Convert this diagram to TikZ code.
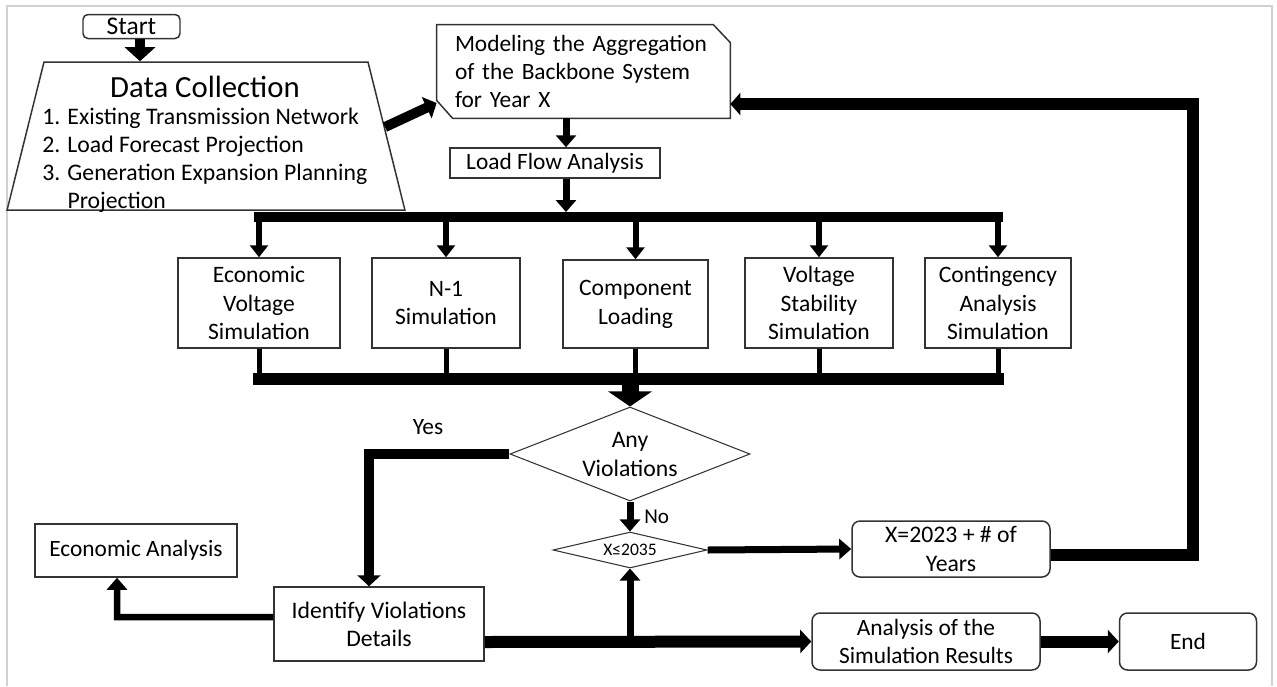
\documentclass[tikz,border=0pt]{standalone}
\usepackage{fontspec}
\setmainfont{Carlito}
\usepackage{tikz}
\usetikzlibrary{arrows.meta,positioning,shapes.geometric,calc}
\definecolor{edge}{gray}{0.2}
\definecolor{rim}{gray}{0.82}
\newcommand{\fsz}[2]{\fontsize{#1}{#2}\selectfont}
\tikzset{
  box/.style={rectangle, draw=edge, line width=0.85pt, align=center, inner sep=1pt, font=\fsz{13.3}{15.9}},
  rbox/.style={box, rounded corners=1.6mm},
  simbox/.style={box, minimum height=18mm, font=\fsz{13.4}{16.4}},
  dbox/.style={diamond, draw=edge, line width=0.6pt, align=center, inner sep=0pt, aspect=3},
  outline/.style={draw=edge, line width=0.85pt},
  arrow/.style={-{Triangle[length=2.2mm, width=4.6mm]}, line width=2mm},
  midarrow/.style={-{Triangle[length=2.4mm, width=4mm]}, line width=1.4mm},
  branch/.style={-{Triangle[length=2.4mm, width=3.6mm]}, line width=1.2mm},
  bigarrow/.style={-{Triangle[length=3mm, width=8.6mm]}, line width=3.4mm},
  bus/.style={line width=2mm, line cap=rect},
  stub/.style={line width=1mm}
}
\begin{document}
\begin{tikzpicture}[x=0.2mm, y=-0.2mm]
  \useasboundingbox (0,0) rectangle (1277,686);
  \draw[rim, line width=0.5mm] (7,686) -- (7,6) -- (1272,6) -- (1272,686);

  % input side
  \node[rbox, rounded corners=1mm, minimum width=19.4mm, minimum height=4.8mm, inner sep=0pt, font=\fsz{14.5}{17}] (start) at (131.5,26.5) {Start};
  \node[trapezium, outline, trapezium left angle=76, trapezium right angle=76, inner sep=0pt, text width=64.8mm, text height=29.6mm, text depth=0pt] (data) at (206,136) {};
  \node[font=\fsz{17.5}{21}, anchor=base, inner sep=0pt] (datatitle) at (205,97) {Data Collection};
  \node[font=\fsz{13.5}{15.9}, align=left, anchor=north west, inner sep=0pt] (datalist) at (42,108) {1. Existing Transmission Network\\2. Load Forecast Projection\\3. Generation Expansion Planning\\\phantom{3. }Projection};
  \node[minimum width=58.6mm, minimum height=18.6mm, inner xsep=3.6mm, inner ysep=0pt, text width=51.4mm, align=left, font=\fsz{13.3}{15.9}] (model) at (583.5,71.5) {Modeling the Aggregation\\of the Backbone System\\for Year X};
  \draw[outline] (model.north west) -- ([xshift=-3.4mm]model.north east) -- ([yshift=-3.6mm]model.north east)
    -- (model.south east) -- ([xshift=3.2mm]model.south west) -- ([yshift=3.6mm]model.south west) -- cycle;
  \node[box, minimum width=42mm, minimum height=6mm] (load) at (555,163) {Load Flow Analysis};

  % simulations
  \node[simbox, minimum width=32.4mm] (econ) at (259,303) {Economic\\Voltage\\Simulation};
  \node[simbox, minimum width=29.6mm] (nmin) at (446,303) {N-1\\Simulation};
  \node[simbox, minimum width=29mm, minimum height=17.6mm] (comp) at (635.5,304) {Component\\Loading};
  \node[simbox, minimum width=29.6mm] (volt) at (819,303) {Voltage\\Stability\\Simulation};
  \node[simbox, minimum width=29.2mm] (cont) at (998,303) {Contingency\\Analysis\\Simulation};

  % decisions
  \node[dbox, minimum width=48mm, minimum height=18.8mm, font=\fsz{13.5}{16.5}] (anyv) at (630,454) {Any\\Violations};
  \node[dbox, aspect=4, minimum width=30.8mm, minimum height=7.2mm, font=\fsz{10}{12}] (chk) at (630,550) {X≤2035};
  \node[rbox, minimum width=39.6mm, minimum height=11.2mm, font=\fsz{13.5}{16}] (years) at (951,549) {X=2023 + \# of\\Years};
  \node[box, minimum width=42mm, minimum height=14.8mm, font=\fsz{13.5}{16}] (ident) at (379,624) {Identify Violations\\Details};
  \node[box, minimum width=40.4mm, minimum height=10.6mm] (econa) at (136,550.5) {Economic Analysis};
  \node[rbox, minimum width=45.6mm, minimum height=11.4mm] (results) at (926,641.5) {Analysis of the\\Simulation Results};
  \node[rbox, minimum width=27.4mm, minimum height=11.4mm] (finish) at (1188,641.5) {End};
  \node[font=\fsz{13.3}{15.9}] (yeslabel) at (428,427) {Yes};

  \coordinate (bustop) at (566,217);
  \coordinate (buslow) at (630,379);
  \coordinate (loopc) at (1193,104);
  \coordinate (yesc) at (369,454);
  \coordinate (econc) at (117,617);

  % connectors
  \draw[arrow, -{Triangle[length=2.8mm, width=6mm]}] ([xshift=1.7mm]start.south) -- ([xshift=1.7mm]start.south |- data.north);
  \draw[arrow] ($(data.top right corner)!0.44!(data.bottom right corner)$) -- ([yshift=-6.3mm]model.west);
  \draw[midarrow] (model.south -| bustop) -- (load.north -| bustop);
  \draw[midarrow] (load.south -| bustop) -- ([yshift=1mm]bustop);
  \draw[bus] (econ.north |- bustop) -- (cont.north |- bustop);
  \foreach \b in {econ,nmin,comp,volt,cont}
    \draw[branch] (\b.north |- bustop) -- (\b.north);
  \foreach \b in {econ,nmin,comp,volt,cont}
    \draw[stub] (\b.south) -- (\b.south |- buslow);
  \draw[bus, line width=2.4mm] (econ.south |- buslow) -- (cont.south |- buslow);
  \draw[bigarrow] (buslow) -- (anyv.north);
  \draw[midarrow] (anyv.south) -- node[right, xshift=1mm, font=\fsz{12}{14}] (nolabel) {No} (chk.north);
  \draw[midarrow] (chk.east) -- (years.west);
  \draw[line width=2.4mm, -{Triangle[length=2mm, width=4.4mm]}] ([yshift=-1.2mm]years.east) -| (loopc) -- (model.east |- loopc);
  \draw[arrow] (anyv.west) -- (yesc) -- (yesc |- ident.north);
  \draw[midarrow, line width=1.3mm] ([yshift=1.4mm]ident.west) -- (econc) -- (econc |- econa.south);
  \draw[arrow, line width=2.4mm] ([yshift=-3.6mm]ident.east) -- (results.west);
  \draw[midarrow] (chk.south |- results.west) -- (chk.south);
  \draw[arrow, line width=2.4mm] (results.east) -- (finish.west);
\end{tikzpicture}
\end{document}
